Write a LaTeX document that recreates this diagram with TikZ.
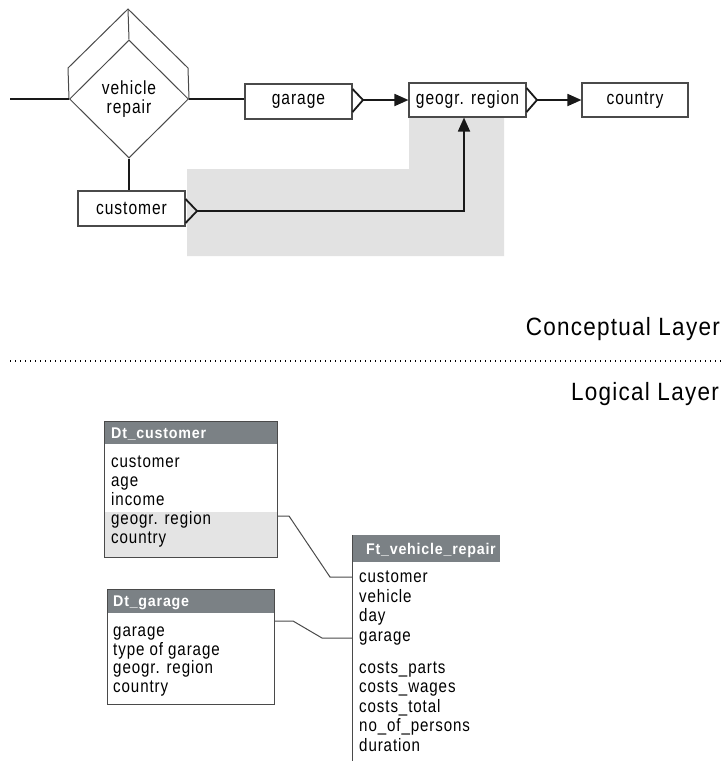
\documentclass[tikz,border=0pt]{standalone}
\usepackage{fontspec}
\setmainfont{Liberation Sans}
\newfontfamily\erfont[FakeStretch=0.82,LetterSpace=5]{Liberation Sans}
\newfontfamily\layerfont[FakeStretch=0.9,LetterSpace=5]{Liberation Sans}
\newfontfamily\tabfont[FakeStretch=0.84,LetterSpace=5]{Liberation Sans}
\newfontfamily\hdrfont[FakeStretch=0.92,LetterSpace=5]{Liberation Sans}
\usetikzlibrary{arrows.meta,shapes.geometric}
\definecolor{lightshade}{HTML}{E2E2E2}
\definecolor{hdr}{HTML}{7B8185}
\definecolor{rowgray}{HTML}{E4E4E4}
\definecolor{edge}{HTML}{4A4A4A}
\begin{document}
\begin{tikzpicture}[x=1pt,y=-1pt,
  erbox/.style={draw=edge,line width=1.1pt,fill=white,inner sep=0pt,font=\erfont\fontsize{19}{21}\selectfont},
  link/.style={line width=1.8pt,draw=black!90,line join=miter},
  tip/.style={-{Triangle[length=14pt,width=12pt]}},
  thinline/.style={draw=edge,line width=1pt},
  tabtext/.style={anchor=base west,inner sep=0pt,font=\tabfont\fontsize{18}{19}\selectfont},
  hdrtext/.style={inner sep=0pt,text=white,font=\hdrfont\bfseries\fontsize{15.5}{18}\selectfont},
  hdrbar/.style={fill=hdr,inner sep=0pt,anchor=north west},
  tabbox/.style={draw=edge,line width=1.1pt,inner sep=0pt,anchor=north west},
  layer/.style={anchor=base east,inner sep=0pt,font=\layerfont\fontsize{25}{28}\selectfont}
]
\useasboundingbox (0,0) rectangle (724,761);
\fill[white] (0,0) rectangle (724,761);
% shaded area
\fill[lightshade] (187,169) -- (409,169) -- (409,117) -- (504,117) -- (504,256) -- (187,256) -- cycle;

% ER part
\node[erbox,minimum width=107pt,minimum height=35pt] (garage) at (298.5,101.5) {garage};
\node[erbox,minimum width=117pt,minimum height=34pt] (region) at (467.5,100) {geogr. region};
\node[erbox,minimum width=106pt,minimum height=34pt] (country) at (635,100) {country};
\node[erbox,minimum width=107pt,minimum height=35pt] (customer) at (131.5,208.5) {customer};

\node[diamond,draw=edge,line width=1pt,minimum width=119pt,minimum height=118pt,inner sep=0pt,
      align=center,font=\erfont\fontsize{19}{19.5}\selectfont] (dia) at (129,99) {vehicle\\repair};
\coordinate (topL) at (68,68);
\coordinate (apex) at (128,9);
\coordinate (topR) at (188,68);
\draw[thinline] (dia.west) -- (topL) -- (apex) -- (topR) -- (dia.east);
\draw[thinline] (apex) -- (dia.north);

\coordinate (lend) at (10,99);
\draw[link] (lend) -- (dia.west);
\draw[link] (dia.east) -- (dia.east -| garage.west);
\draw[link] (dia.south) -- (dia.south |- customer.north);

\coordinate (gfoot) at (363,100);
\draw[link] (garage.east |- 0,89) -- (gfoot) -- (garage.east |- 0,112);
\draw[link,tip] (gfoot) -- (region.west);

\coordinate (rfoot) at (537,100);
\draw[link] (region.east |- 0,88) -- (rfoot) -- (region.east |- 0,112);
\draw[link,tip] (rfoot) -- (country.west);

\coordinate (cfoot) at (197,211);
\coordinate (bend) at (464,211);
\draw[link] (customer.east |- 0,199) -- (cfoot) -- (customer.east |- 0,223);
\draw[link,tip] (cfoot) -- (bend) -- (bend |- region.south);

% layers
\node[layer] (concept) at (720,335) {Conceptual Layer};
\coordinate (dl) at (10,361);
\coordinate (dr) at (724,361);
\draw[line width=1.2pt,dash pattern=on 1.3pt off 3.7pt] (dl) -- (dr);
\node[layer] (logical) at (719,400) {Logical Layer};

% Dt_customer
\fill[rowgray] (104,512) rectangle (277,557);
\node[hdrbar,minimum width=173pt,minimum height=23pt] (dch) at (104,421) {};
\node[tabbox,minimum width=173pt,minimum height=136pt] (dc) at (104,421) {};
\node[hdrtext,anchor=base west] (dct) at (111,438) {Dt\_customer};
\foreach \t [count=\i] in {customer,age,income,geogr. region,country}
  \node[tabtext] (dcr\i) at (111,448.5+19*\i) {\t};

% Dt_garage
\node[hdrbar,minimum width=167pt,minimum height=24pt] (dgh) at (107,589) {};
\node[tabbox,minimum width=167pt,minimum height=115pt] (dg) at (107,589) {};
\node[hdrtext,anchor=base west] (dgt) at (113,606.5) {Dt\_garage};
\foreach \t [count=\i] in {garage,type of garage,geogr. region,country}
  \node[tabtext] (dgr\i) at (113,618+18.5*\i) {\t};

% Ft_vehicle_repair
\node[hdrbar,minimum width=148pt,minimum height=27pt] (fth) at (352,535) {};
\node[hdrtext,anchor=base east] (ftt) at (496,554) {Ft\_vehicle\_repair};
\node[inner sep=0pt,anchor=north west,minimum width=148pt,minimum height=199pt] (ft) at (352,562) {};
\draw[thinline] (fth.north west) -- (ft.south west);
\foreach \t [count=\i] in {customer,vehicle,day,garage}
  \node[tabtext] (ftr\i) at (359,563+19.5*\i) {\t};
\foreach \t [count=\i] in {costs\_parts,costs\_wages,costs\_total,no\_of\_persons,duration}
  \node[tabtext] (fts\i) at (359,653.5+19.5*\i) {\t};

% table connectors
\coordinate (c1a) at (289,516);
\coordinate (c1b) at (330,577);
\draw[thinline] (dc.east |- c1a) -- (c1a) -- (c1b) -- (ft.west |- c1b);
\coordinate (c2a) at (293,621);
\coordinate (c2b) at (322,638);
\draw[thinline] (dg.east |- c2a) -- (c2a) -- (c2b) -- (ft.west |- c2b);
\end{tikzpicture}
\end{document}
